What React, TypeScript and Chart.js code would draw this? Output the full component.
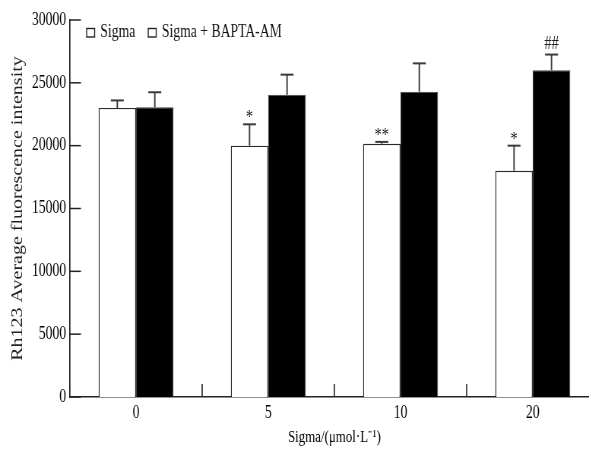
import React, { useEffect, useRef } from "react";
import { Chart, registerables } from "chart.js";

Chart.register(...registerables);

// ---- data ----
const categories = ["0", "5", "10", "20"];
const sigmaValues = [23000, 20000, 20150, 18000];
const sigmaErrors = [600, 1700, 150, 2000];
const baptaValues = [23050, 24050, 24300, 26000];
const baptaErrors = [1200, 1600, 2250, 1250];
const sigmaMarks = ["", "*", "**", "*"];
const baptaMarks = ["", "", "", "##"];
const yMin = 0;
const yMax = 30000;
const yStep = 5000;

const FONT = "'Liberation Serif', 'Times New Roman', serif";
const SQUEEZE = 0.76; // the reference image is horizontally condensed
const CW = 800;
const CH = 450;

const errorBarPlugin = {
  id: "errorBars",
  afterDatasetsDraw(chart: any) {
    const ctx = chart.ctx;
    const y = chart.scales.y;
    chart.data.datasets.forEach((ds: any, di: number) => {
      const meta = chart.getDatasetMeta(di);
      meta.data.forEach((bar: any, i: number) => {
        const v = ds.data[i];
        const e = ds.errors[i];
        const y0 = y.getPixelForValue(v);
        const y1 = y.getPixelForValue(v + e);
        ctx.save();
        ctx.strokeStyle = "#3a3a3a";
        ctx.lineWidth = 1.9;
        ctx.beginPath();
        ctx.moveTo(bar.x, y0);
        ctx.lineTo(bar.x, y1);
        ctx.stroke();
        ctx.lineWidth = 2;
        ctx.beginPath();
        ctx.moveTo(bar.x - 8.5, y1);
        ctx.lineTo(bar.x + 8.5, y1);
        ctx.stroke();
        const mark = ds.marks[i];
        if (mark) {
          ctx.fillStyle = "#222";
          ctx.font = `19px ${FONT}`;
          ctx.textAlign = "center";
          ctx.textBaseline = "alphabetic";
          ctx.fillText(mark, bar.x, mark.includes("#") ? y1 - 6 : y1 - 1);
        }
        ctx.restore();
      });
    });
  },
};

const axisTicksPlugin = {
  id: "innerTicks",
  afterDraw(chart: any) {
    const ctx = chart.ctx;
    const { left, bottom } = chart.chartArea;
    const y = chart.scales.y;
    const x = chart.scales.x;
    ctx.save();
    ctx.strokeStyle = "#222";
    ctx.lineWidth = 1.5;
    y.ticks.forEach((t: any) => {
      const py = y.getPixelForValue(t.value);
      ctx.beginPath();
      ctx.moveTo(left, py);
      ctx.lineTo(left + 14.5, py);
      ctx.stroke();
    });
    ctx.lineWidth = 1.6;
    for (let i = 0; i < categories.length - 1; i++) {
      const px = (x.getPixelForTick(i) + x.getPixelForTick(i + 1)) / 2;
      ctx.beginPath();
      ctx.moveTo(px, bottom);
      ctx.lineTo(px, bottom - 13);
      ctx.stroke();
    }
    ctx.restore();
  },
};

const legendPlugin = {
  id: "insideLegend",
  afterDraw(chart: any) {
    const ctx = chart.ctx;
    const { left, top } = chart.chartArea;
    ctx.save();
    ctx.font = `18px ${FONT}`;
    ctx.textBaseline = "alphabetic";
    ctx.textAlign = "left";
    let cx = left + 22;
    const boxTop = top + 8.5;
    chart.data.datasets.forEach((ds: any) => {
      ctx.fillStyle = "#fff";
      ctx.strokeStyle = "#222";
      ctx.lineWidth = 1.4;
      ctx.fillRect(cx, boxTop, 10.5, 8.5);
      ctx.strokeRect(cx, boxTop, 10.5, 8.5);
      ctx.fillStyle = "#111";
      ctx.fillText(ds.label, cx + 18, boxTop + 8.3);
      cx += 18 + ctx.measureText(ds.label).width + 17;
    });
    ctx.restore();
  },
};

export default function App() {
  const ref = useRef<HTMLCanvasElement>(null);

  useEffect(() => {
    if (!ref.current) return;
    const chart = new Chart(ref.current, {
      type: "bar",
      data: {
        labels: categories,
        datasets: [
          {
            label: "Sigma",
            data: sigmaValues,
            errors: sigmaErrors,
            marks: sigmaMarks,
            backgroundColor: "#ffffff",
            borderColor: "#2a2a2a",
            borderWidth: 1.4,
            categoryPercentage: 0.567,
            barPercentage: 1,
          } as any,
          {
            label: "Sigma + BAPTA-AM",
            data: baptaValues,
            errors: baptaErrors,
            marks: baptaMarks,
            backgroundColor: "#000000",
            borderColor: "#444",
            borderWidth: 1,
            categoryPercentage: 0.567,
            barPercentage: 1,
          } as any,
        ],
      },
      options: {
        animation: false,
        responsive: false,
        devicePixelRatio: 1,
        layout: { padding: { top: 20, right: 12, bottom: 0, left: 0 } },
        plugins: {
          legend: { display: false },
          tooltip: { enabled: false },
        },
        scales: {
          x: {
            type: "category",
            offset: true,
            grid: { display: false, drawTicks: false },
            border: { display: true, color: "#222", width: 1.6 },
            ticks: {
              font: { family: FONT, size: 18 },
              color: "#000",
              padding: 5,
              maxRotation: 0,
            },
            title: {
              display: true,
              text: "Sigma/(μmol·L⁻¹)",
              font: { family: FONT, size: 17 },
              color: "#000",
              padding: { top: 0, bottom: 2 },
            },
            afterFit: (s: any) => {
              s.height = 53;
            },
          },
          y: {
            min: yMin,
            max: yMax,
            grid: { display: false, drawTicks: false },
            border: { display: true, color: "#222", width: 1.7 },
            ticks: {
              stepSize: yStep,
              font: { family: FONT, size: 18 },
              color: "#000",
              padding: 5,
              callback: (v: any) => String(v),
            },
            title: {
              display: true,
              text: "Rh123 Average fluorescence intensity",
              font: { family: FONT, size: 20 },
              color: "#222",
              padding: { top: 12, bottom: 0 },
            },
            afterFit: (s: any) => {
              s.width = 92;
            },
          },
        },
      } as any,
      plugins: [errorBarPlugin, axisTicksPlugin, legendPlugin],
    });
    return () => chart.destroy();
  }, []);

  return (
    <div
      style={{
        position: "fixed",
        left: 0,
        top: 0,
        width: 589,
        height: 450,
        overflow: "hidden",
        background: "#fff",
      }}
    >
      <div
        style={{
          width: CW,
          height: CH,
          transform: `scaleX(${SQUEEZE})`,
          transformOrigin: "0 0",
        }}
      >
        <canvas
          ref={ref}
          width={CW}
          height={CH}
          style={{ display: "block", width: CW, height: CH }}
        />
      </div>
    </div>
  );
}
